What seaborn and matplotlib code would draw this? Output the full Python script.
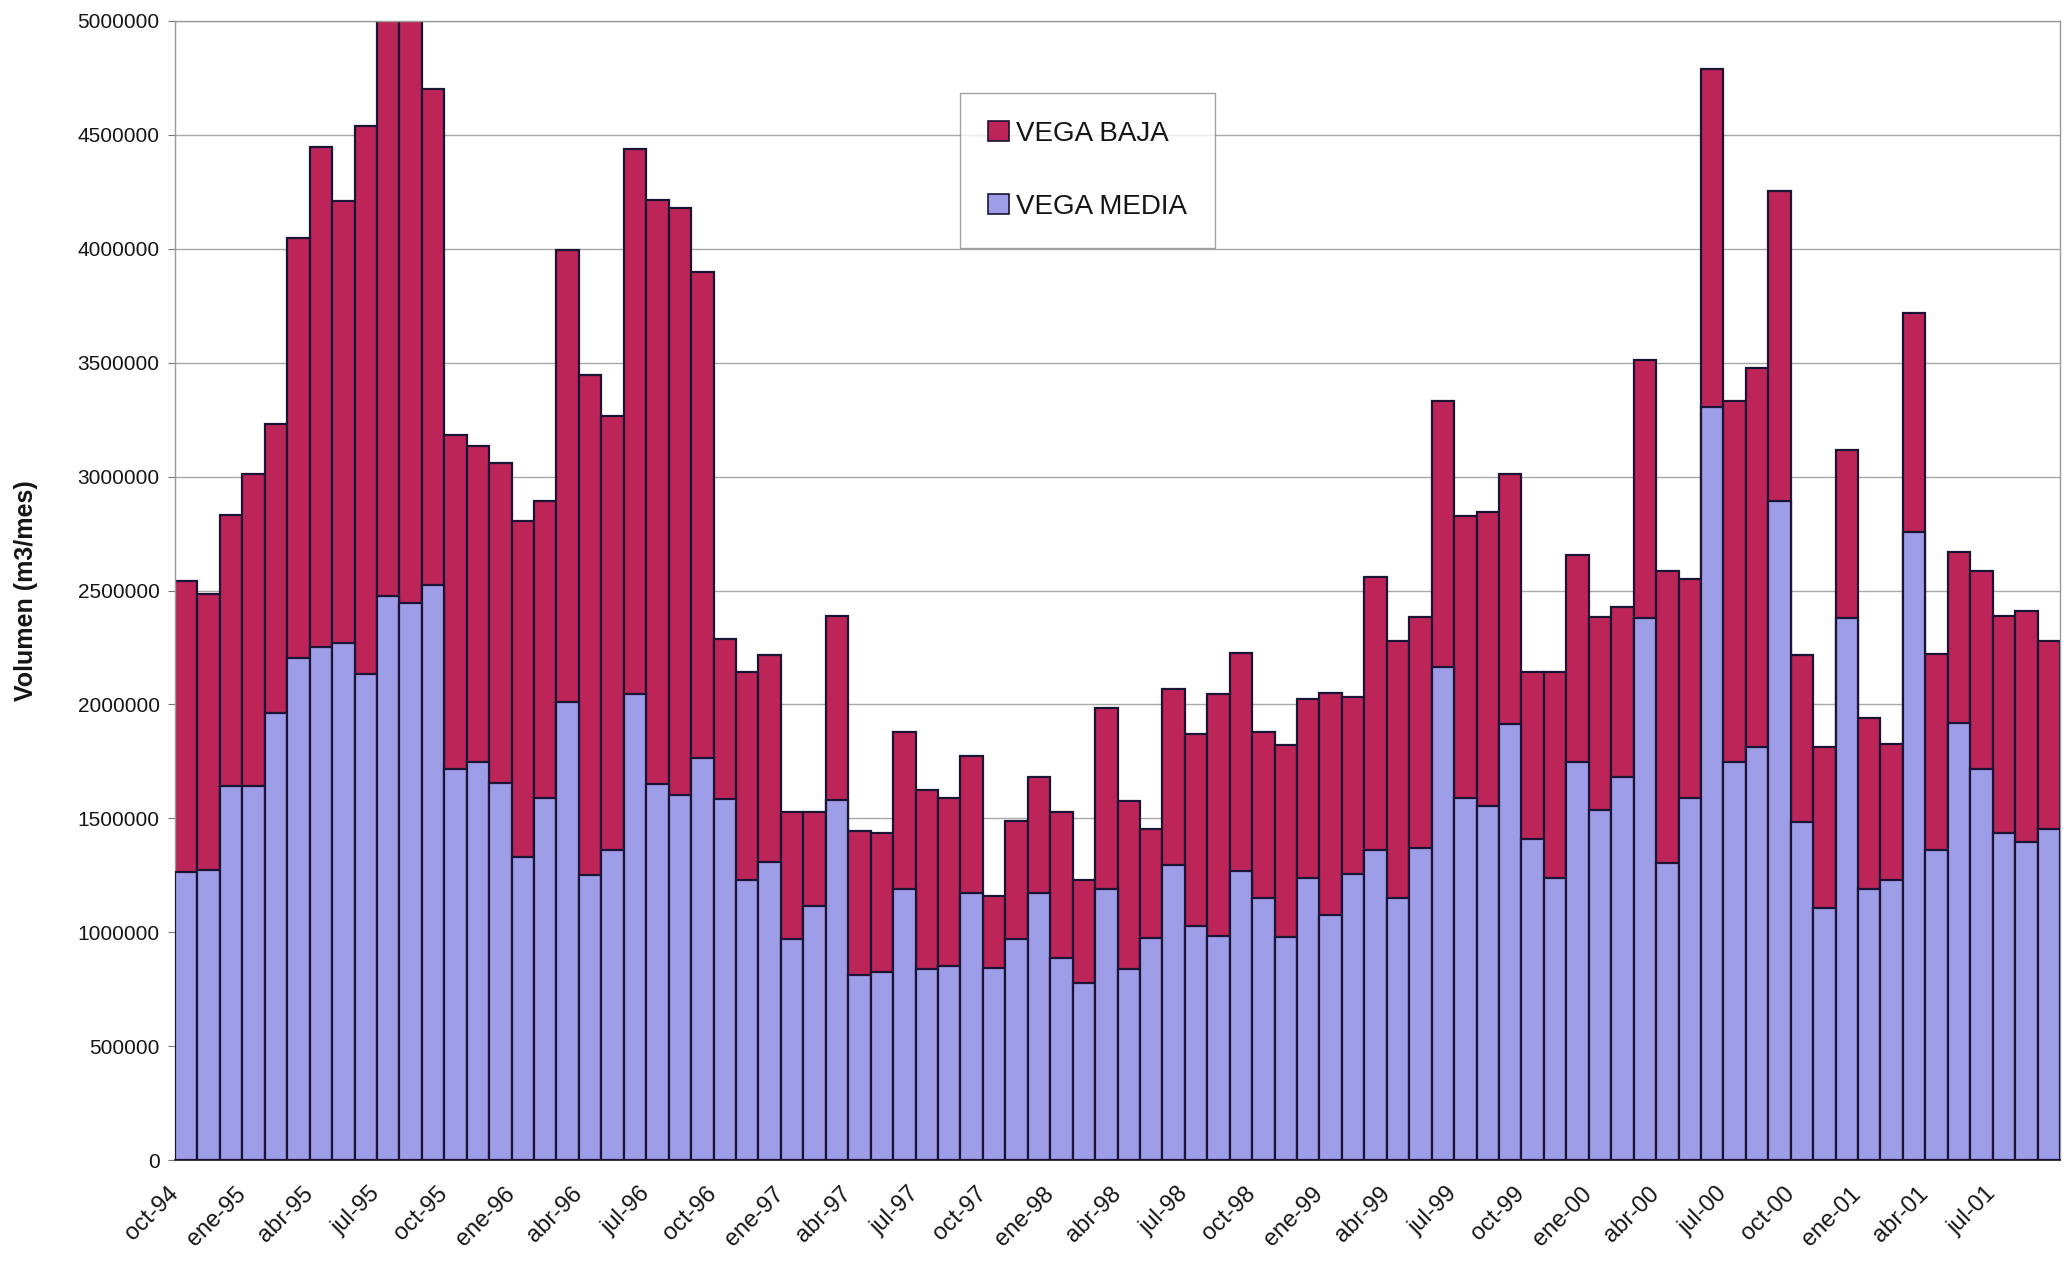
import matplotlib
matplotlib.use("Agg")
import matplotlib.pyplot as plt
from matplotlib.patches import Patch
from matplotlib.ticker import FuncFormatter
import seaborn as sns
import pandas as pd

# ---- data (m3/mes) ----
month_names = ["ene", "feb", "mar", "abr", "may", "jun",
               "jul", "ago", "sep", "oct", "nov", "dic"]

vega_media = [1263000, 1273000, 1640000, 1640000, 1962000, 2205000, 2254000, 2270000, 2133000, 2477000,
              2444000, 2526000, 1716000, 1745000, 1655000, 1329000, 1591000, 2011000, 1253000, 1362000,
              2044000, 1650000, 1601000, 1765000, 1585000, 1230000, 1306000, 968000, 1115000, 1581000,
              810000, 827000, 1191000, 837000, 853000, 1171000, 843000, 968000, 1171000, 886000,
              778000, 1191000, 837000, 974000, 1296000, 1027000, 984000, 1270000, 1148000, 978000,
              1237000, 1076000, 1257000, 1362000, 1148000, 1368000, 2165000, 1591000, 1552000, 1913000,
              1411000, 1237000, 1745000, 1535000, 1683000, 2379000, 1302000, 1591000, 3304000, 1745000,
              1814000, 2894000, 1483000, 1106000, 2379000, 1188000, 1230000, 2756000, 1362000, 1919000,
              1716000, 1434000, 1394000, 1453000]

vega_baja = [1280000, 1211000, 1191000, 1372000, 1270000, 1844000, 2192000, 1939000, 2404000, 2700000,
             2700000, 2175000, 1466000, 1388000, 1403000, 1476000, 1303000, 1982000, 2192000, 1902000,
             2392000, 2566000, 2576000, 2133000, 702000, 912000, 909000, 558000, 411000, 807000,
             634000, 607000, 686000, 787000, 738000, 601000, 315000, 518000, 509000, 640000,
             452000, 794000, 738000, 479000, 771000, 843000, 1060000, 954000, 732000, 843000,
             787000, 975000, 777000, 1197000, 1132000, 1017000, 1165000, 1237000, 1292000, 1099000,
             731000, 905000, 912000, 850000, 745000, 1131000, 1283000, 961000, 1486000, 1585000,
             1664000, 1361000, 732000, 708000, 738000, 754000, 597000, 961000, 859000, 748000,
             869000, 954000, 1017000, 827000]

tick_labels = ["oct-94", "ene-95", "abr-95", "jul-95", "oct-95", "ene-96", "abr-96", "jul-96",
               "oct-96", "ene-97", "abr-97", "jul-97", "oct-97", "ene-98", "abr-98", "jul-98",
               "oct-98", "ene-99", "abr-99", "jul-99", "oct-99", "ene-00", "abr-00", "jul-00",
               "oct-00", "ene-01", "abr-01", "jul-01"]

series_names = ["VEGA BAJA", "VEGA MEDIA"]

# month categories oct-94 ... sep-01
meses = []
y, m = 94, 9
for _ in range(len(vega_media)):
    meses.append(f"{month_names[m]}-{y % 100:02d}")
    m += 1
    if m == 12:
        m = 0
        y += 1

df = pd.DataFrame({"mes": meses, "media": vega_media, "baja": vega_baja})
df["total"] = df["media"] + df["baja"]

RED = "#bd2558"
BLUE = "#9d9de8"
EDGE = "#1c1434"
TXT = "#151515"

sns.set_style("white")
plt.rcParams["font.family"] = ["Liberation Sans", "DejaVu Sans"]

fig = plt.figure(figsize=(20.72, 12.62), dpi=100)
ax = fig.add_axes([175 / 2072, 1 - 1160 / 1262, 1885 / 2072, 1139 / 1262])

sns.barplot(data=df, x="mes", y="total", color=RED, saturation=1, width=1.0,
            edgecolor=EDGE, linewidth=1.6, ax=ax, zorder=2)
sns.barplot(data=df, x="mes", y="media", color=BLUE, saturation=1, width=1.0,
            edgecolor=EDGE, linewidth=1.6, ax=ax, zorder=3)

ax.set_xlim(-0.5, len(meses) - 0.5)
ax.set_ylim(0, 5000000)
ax.set_yticks(range(0, 5000001, 500000))
ax.yaxis.set_major_formatter(FuncFormatter(lambda v, p: f"{int(v)}"))
ax.yaxis.grid(True, color="#a8a8a8", linewidth=1.0, zorder=0)
ax.set_axisbelow(True)

# x labels every 3 months, anchored at the category boundary tick marks
pos = [meses.index(t) - 0.5 for t in tick_labels]
ax.set_xticks(pos + [len(meses) - 0.5])
ax.set_xticklabels(tick_labels + [""], rotation=45, ha="right", va="center",
                   rotation_mode="anchor", fontsize=17, color=TXT)
ax.tick_params(axis="x", which="major", length=5, color="#555555", width=1, pad=17)
ax.tick_params(axis="y", length=5, color="#777777", labelsize=15, labelcolor=TXT,
               left=True, pad=6)

ax.set_xlabel("")
ax.set_ylabel("Volumen (m3/mes)", fontsize=18, fontweight="bold", color=TXT)
ax.yaxis.set_label_coords(-0.0727, 0.5)

for side in ["left", "right", "top"]:
    ax.spines[side].set_color("#9a9a9a")
    ax.spines[side].set_linewidth(1.0)
ax.spines["bottom"].set_color("#333333")
ax.spines["bottom"].set_linewidth(1.4)

handles = [Patch(facecolor=RED, edgecolor=EDGE, linewidth=1.2),
           Patch(facecolor=BLUE, edgecolor=EDGE, linewidth=1.2)]
leg = ax.legend(handles, series_names, loc="upper left",
                bbox_to_anchor=((960 - 175) / 1885, (1160 - 93) / 1139),
                frameon=True, fancybox=False, shadow=False, fontsize=20,
                labelspacing=1.7, handlelength=0.75, handleheight=0.75,
                handletextpad=0.27, borderpad=1.0, borderaxespad=0)
leg.get_frame().set_edgecolor("#8a8a8a")
leg.get_frame().set_linewidth(1.0)
for t in leg.get_texts():
    t.set_color(TXT)

fig.savefig("out.png", dpi=100, facecolor="white")
